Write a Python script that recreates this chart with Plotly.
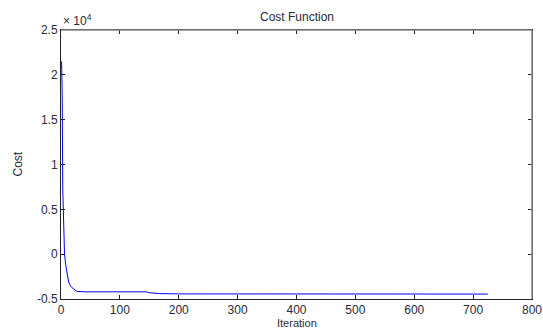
import plotly.graph_objects as go

# Data (cost in units of 1e4)
iterations = [1, 2, 3, 4, 5, 6, 8, 10, 13, 16, 18, 22, 27, 40, 80, 120, 145, 150, 160, 167, 200, 300, 400, 500, 600, 700, 725]
cost_e4 = [2.15, 1.8, 0.72, 0.42, 0.18, 0.0, -0.12, -0.21, -0.31, -0.35, -0.37, -0.39, -0.415, -0.42, -0.42, -0.42, -0.42, -0.43, -0.437, -0.44, -0.443, -0.445, -0.445, -0.445, -0.445, -0.445, -0.445]

x_ticks = [0, 100, 200, 300, 400, 500, 600, 700, 800]
y_ticks = [-0.5, 0, 0.5, 1, 1.5, 2, 2.5]
y_tick_text = ["-0.5", "0", "0.5", "1", "1.5", "2", "2.5"]

font_family = "Arial, Liberation Sans, sans-serif"
txt_color = "#2a2a3a"

fig = go.Figure()
fig.add_trace(go.Scatter(x=iterations, y=cost_e4, mode="lines",
                         line=dict(color="#0000ff", width=1), showlegend=False))

axis_common = dict(showgrid=False, zeroline=False, ticks="inside", ticklen=4,
                   tickcolor="#222", linecolor="#222", linewidth=1, mirror="ticks",
                   automargin=False)

fig.update_layout(
    width=543, height=329,
    margin=dict(l=61, r=11, t=30, b=30),
    paper_bgcolor="white", plot_bgcolor="white",
    xaxis=dict(range=[0, 800], tickvals=x_ticks, ticklabelstandoff=0,
               tickfont=dict(family=font_family, size=12, color=txt_color), **axis_common),
    yaxis=dict(range=[-0.5, 2.5], tickvals=y_ticks, ticktext=y_tick_text,
               tickfont=dict(family=font_family, size=12, color=txt_color), **axis_common),
)

# gray top and right box edges
fig.add_shape(type="line", xref="paper", yref="paper", x0=0, x1=1, y0=1, y1=1,
              line=dict(color="#888", width=1.5))
fig.add_shape(type="line", xref="paper", yref="paper", x0=1, x1=1, y0=0, y1=1,
              line=dict(color="#888", width=1.5))

# title and axis labels as annotations at reference positions
fig.add_annotation(text="Cost Function", xref="paper", yref="paper", x=0.5, y=1,
                   xanchor="center", yanchor="bottom", yshift=4, showarrow=False,
                   font=dict(family=font_family, size=12, color=txt_color))
fig.add_annotation(text="Iteration", xref="paper", yref="paper", x=0.5, y=0,
                   xanchor="center", yanchor="top", yshift=-17, showarrow=False,
                   borderpad=0,
                   font=dict(family=font_family, size=11, color=txt_color))
fig.add_annotation(text="Cost", xref="paper", yref="paper", x=0, y=0.5,
                   xanchor="center", yanchor="middle", xshift=-44, textangle=-90,
                   showarrow=False,
                   font=dict(family=font_family, size=12, color=txt_color))
fig.add_annotation(text="× 10<sup>4</sup>", xref="paper", yref="paper", x=0, y=1,
                   xanchor="left", yanchor="bottom", showarrow=False, yshift=0,
                   font=dict(family=font_family, size=12, color=txt_color))

fig.write_html("out.html")
